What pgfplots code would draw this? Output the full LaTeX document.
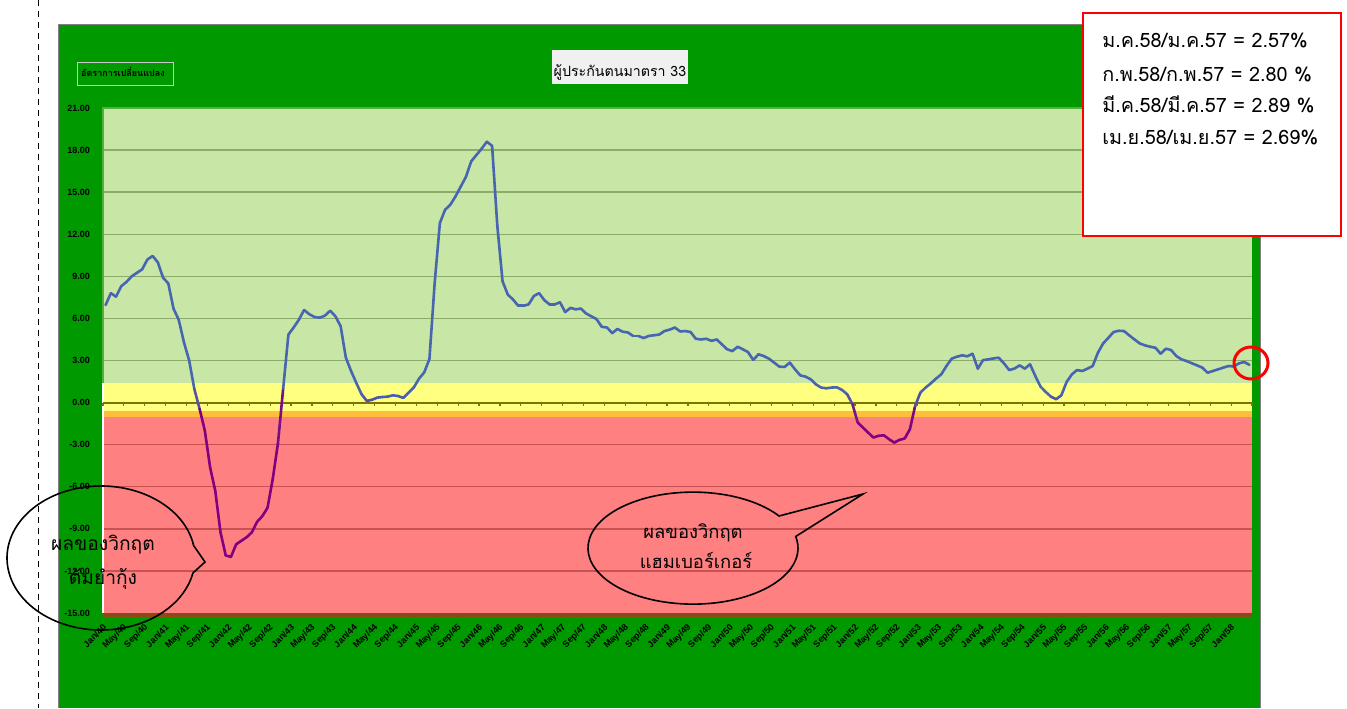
\documentclass[border=0pt]{standalone}
\usepackage{fontspec}
\usepackage{pgfplots}
\pgfplotsset{compat=1.18}
\setmainfont{Liberation Sans}
\newfontfamily\thai[Script=Thai]{Loma}
\definecolor{frame}{RGB}{0,153,0}
\definecolor{bgreen}{RGB}{200,230,166}
\definecolor{byellow}{RGB}{255,255,128}
\definecolor{borange}{RGB}{255,190,60}
\definecolor{bred}{RGB}{255,128,128}
\definecolor{bbrown}{RGB}{140,75,20}
\definecolor{gridg}{RGB}{140,172,108}
\definecolor{gridr}{RGB}{200,82,82}
\definecolor{olive1}{RGB}{120,120,0}
\definecolor{lborder}{RGB}{80,178,60}
\definecolor{tbox}{RGB}{240,240,240}
\definecolor{sbox}{RGB}{200,200,200}

\begin{document}
\begin{tikzpicture}
\path[use as bounding box] (0,0) rectangle (673.5pt,354pt);
\begin{scope}[x=0.5pt,y=-0.5pt,shift={(0pt,354pt)}]
  \draw[black, line width=0.5pt, dash pattern=on 3pt off 2.5pt] (38,0) -- (38,708);
  \fill[frame] (58,25) rectangle (1260,708);
  \draw[gray, line width=0.5pt] (58,708) -- (58,25) -- (1260,25) -- (1260,708);
  \fill[tbox] (552,50) rectangle (688,84);
  \node[anchor=base, inner sep=0pt, text=black, font=\thai\fontsize{7.1}{9}\selectfont] at (620,77) {ผู้ประกันตนมาตรา 33};
  \draw[sbox, line width=0.5pt] (77,63) rectangle (173,86);
  \node[anchor=base, inner sep=0pt, text=black, font=\thai\bfseries\fontsize{4.5}{6}\selectfont] at (123,77) {อัตราการเปลี่ยนแปลง};
\end{scope}

\begin{axis}[
  at={(51.5pt,47.5pt)}, anchor=south west,
  scale only axis, width=574.5pt, height=252.5pt,
  xmin=-0.5, xmax=219.5, ymin=-15, ymax=21,
  clip=false,
  axis line style={draw=none},
  major tick length=0pt,
  tick style={draw=none},
  xtick={0,4,...,216},
  xticklabels={Jan/40,May/40,Sep/40,Jan/41,May/41,Sep/41,Jan/42,May/42,Sep/42,Jan/43,May/43,Sep/43,Jan/44,May/44,Sep/44,Jan/45,May/45,Sep/45,Jan/46,May/46,Sep/46,Jan/47,May/47,Sep/47,Jan/48,May/48,Sep/48,Jan/49,May/49,Sep/49,Jan/50,May/50,Sep/50,Jan/51,May/51,Sep/51,Jan/52,May/52,Sep/52,Jan/53,May/53,Sep/53,Jan/54,May/54,Sep/54,Jan/55,May/55,Sep/55,Jan/56,May/56,Sep/56,Jan/57,May/57,Sep/57,Jan/58},
  ytick={-15,-12,...,21},
  /pgf/number format/assume math mode=true,
  yticklabel style={/pgf/number format/fixed, /pgf/number format/fixed zerofill, /pgf/number format/precision=2, font=\fontsize{4.5}{5}\selectfont\bfseries, xshift=-3pt},
  xticklabel style={yshift=-6pt, rotate=45, anchor=east, inner sep=0.5pt, font=\fontsize{4.5}{5}\selectfont\bfseries},
  colormap={bp}{rgb255(0cm)=(128,0,128) rgb255(13.8cm)=(128,0,128) rgb255(15.6cm)=(72,102,176) rgb255(36cm)=(72,102,176)},
  point meta min=-15, point meta max=21,
]
\addplot[draw=none, fill=bgreen] coordinates {(-0.5,1.4) (219.5,1.4) (219.5,21) (-0.5,21)} -- cycle;
\addplot[draw=none, fill=byellow] coordinates {(-0.5,-0.6) (219.5,-0.6) (219.5,1.4) (-0.5,1.4)} -- cycle;
\addplot[draw=none, fill=borange] coordinates {(-0.5,-1.0) (219.5,-1.0) (219.5,-0.6) (-0.5,-0.6)} -- cycle;
\addplot[draw=none, fill=bred] coordinates {(-0.5,-15) (219.5,-15) (219.5,-1.0) (-0.5,-1.0)} -- cycle;
\addplot[draw=none, fill=bbrown] coordinates {(-0.5,-15.25) (219.5,-15.25) (219.5,-15) (-0.5,-15)} -- cycle;
\pgfplotsinvokeforeach{3,6,...,18}{\addplot[gridg, line width=0.7pt] coordinates {(-0.5,#1) (219.5,#1)};}
\pgfplotsinvokeforeach{-3,-6,...,-12}{\addplot[gridr, line width=0.7pt] coordinates {(-0.5,#1) (219.5,#1)};}
\addplot[lborder, line width=1.2pt] coordinates {(-0.5,1.4) (-0.5,21) (219.5,21)};
\addplot[white, line width=0.8pt] coordinates {(-0.5,-15) (-0.5,1.4)};
\addplot[olive1, line width=1pt] coordinates {(-0.5,0) (219.5,0)};
\pgfplotsinvokeforeach{-0.5,3.5,...,219.5}{\draw[olive1, line width=0.6pt] (axis cs:#1,0) -- (axis cs:#1,-0.25);}
\addplot[mesh, point meta=y, line width=1.3pt, line cap=round, line join=round] table[x expr=\coordindex, y=v] {
v
6.95
7.8
7.55
8.3
8.6
9.0
9.25
9.5
10.2
10.45
10.0
8.9
8.5
6.7
5.9
4.3
3.0
0.95
-0.45
-2.0
-4.6
-6.3
-9.25
-10.9
-11.0
-10.1
-9.85
-9.6
-9.25
-8.5
-8.1
-7.5
-5.45
-2.9
1.0
4.85
5.35
5.9
6.6
6.3
6.1
6.05
6.2
6.55
6.15
5.45
3.2
2.25
1.4
0.6
0.12
0.2
0.35
0.4
0.42
0.52
0.47
0.33
0.7
1.07
1.7
2.15
3.1
8.5
12.8
13.75
14.1
14.7
15.4
16.1
17.2
17.65
18.1
18.6
18.3
12.6
8.65
7.7
7.35
6.9
6.9
7.0
7.6
7.8
7.3
7.0
7.0
7.15
6.45
6.75
6.65
6.7
6.35
6.15
5.95
5.4
5.35
4.95
5.25
5.05
5.0
4.75
4.75
4.6
4.75
4.8
4.85
5.1
5.2
5.35
5.07
5.1
5.03
4.55
4.5
4.55
4.4
4.5
4.15
3.8
3.67
3.98
3.8
3.6
3.04
3.44
3.32
3.13
2.85
2.56
2.54
2.85
2.37
1.94
1.85
1.66
1.3
1.07
1.02
1.07
1.09
0.9
0.59
-0.12
-1.42
-1.78
-2.14
-2.49
-2.37
-2.33
-2.61
-2.85
-2.66
-2.56
-1.9
-0.24
0.71
1.07
1.37
1.71
2.01
2.61
3.13
3.27
3.37
3.3
3.48
2.42
3.03
3.08
3.15
3.2
2.8
2.32
2.42
2.65
2.42
2.73
1.9
1.14
0.76
0.42
0.24
0.52
1.47
2.01
2.32
2.25
2.42
2.61
3.56
4.22
4.62
5.03
5.12
5.1
4.79
4.5
4.22
4.08
3.98
3.91
3.48
3.84
3.75
3.32
3.08
2.96
2.8
2.65
2.49
2.13
2.25
2.37
2.49
2.61
2.57
2.80
2.89
2.69
};
\end{axis}

\begin{scope}[x=0.5pt,y=-0.5pt,shift={(0pt,354pt)}]
  % left callout ellipse
  \draw[black, line width=0.8pt] (193.6,545.5) arc[start angle=-10, end angle=-348, x radius=94, y radius=72] -- (205,562) -- cycle;
  \node[anchor=base, inner sep=0pt, font=\thai\fontsize{9.6}{12}\selectfont] at (103,550) {ผลของวิกฤต};
  \node[anchor=base, inner sep=0pt, font=\thai\fontsize{9.6}{12}\selectfont] at (103,584) {ต้มยำกุ้ง};
  % middle callout ellipse
  \draw[black, line width=0.8pt] (779,516) arc[start angle=-35, end angle=-372, x radius=105, y radius=56] -- (863,494) -- cycle;
  \node[anchor=base, inner sep=0pt, font=\thai\fontsize{9.2}{11}\selectfont] at (693,538) {ผลของวิกฤต};
  \node[anchor=base, inner sep=0pt, font=\thai\fontsize{9.2}{11}\selectfont] at (696,568) {แฮมเบอร์เกอร์};
  % info box
  \draw[red, line width=1pt, fill=white] (1083,13) rectangle (1341,236);
  \node[anchor=base west, inner sep=0pt, font=\thai\fontsize{9.9}{11}\selectfont] at (1102,48) {ม.ค.58/ม.ค.57 = 2.57\%};
  \node[anchor=base west, inner sep=0pt, font=\thai\fontsize{9.9}{11}\selectfont] at (1102,81.5) {ก.พ.58/ก.พ.57 = 2.80 \%};
  \node[anchor=base west, inner sep=0pt, font=\thai\fontsize{9.9}{11}\selectfont] at (1102,113) {มี.ค.58/มี.ค.57 = 2.89 \%};
  \node[anchor=base west, inner sep=0pt, font=\thai\fontsize{9.9}{11}\selectfont] at (1102,145) {เม.ย.58/เม.ย.57 = 2.69\%};
  % red circle
  \draw[red, line width=1.5pt] (1251,363) ellipse [x radius=17, y radius=16];
\end{scope}
\end{tikzpicture}
\end{document}
